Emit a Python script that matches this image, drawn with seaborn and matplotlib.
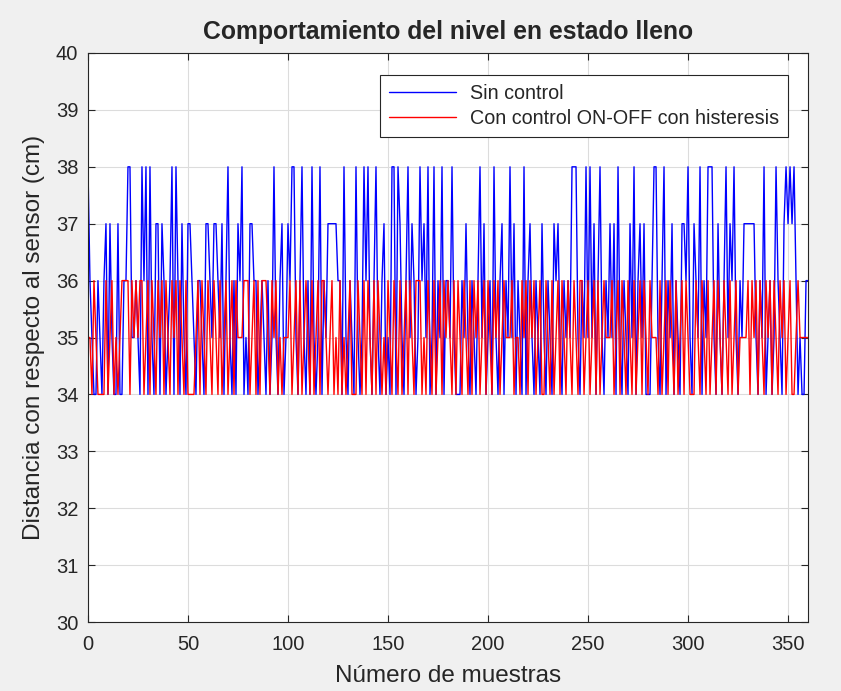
import matplotlib
matplotlib.use("Agg")
import matplotlib.pyplot as plt
import numpy as np
import pandas as pd
import seaborn as sns

# distancia medida (cm), una muestra por posicion
sin_control = [
    38,36,35,34,34,36,35,34,36,37,34,37,35,34,34,37,34,34,36,36,
    38,38,35,35,36,35,34,38,36,38,34,38,35,34,37,37,34,37,36,34,
    35,36,38,34,38,36,34,37,35,34,37,37,36,35,34,36,36,35,34,37,
    37,36,35,37,37,36,35,37,34,36,38,35,34,36,34,37,36,38,34,35,
    34,37,37,36,36,34,35,36,35,34,36,34,35,38,35,34,36,37,34,35,
    37,36,38,38,35,34,36,38,35,34,36,34,38,35,34,35,38,34,36,35,
    37,37,37,37,37,36,36,34,38,35,34,36,35,34,38,35,34,35,38,36,
    38,35,34,36,38,35,34,36,37,34,35,34,38,38,34,38,37,35,34,36,
    38,35,37,36,34,35,38,36,37,35,38,34,35,38,34,36,35,38,34,36,
    36,35,38,35,34,34,34,36,35,37,35,34,36,35,34,36,38,35,37,34,
    35,36,34,38,35,34,36,37,34,36,35,38,35,37,34,36,35,34,38,34,
    36,37,35,34,36,35,34,37,35,34,36,35,34,37,36,37,35,34,36,35,
    36,35,38,38,38,35,34,36,35,38,35,38,35,37,34,36,38,35,34,36,
    35,37,35,37,34,38,35,34,36,35,34,37,35,38,34,36,37,35,37,34,
    34,34,36,38,38,35,34,36,38,34,36,35,37,34,36,35,34,37,37,36,
    38,35,34,37,36,35,38,34,36,35,38,38,38,35,34,37,35,34,36,38,
    35,37,36,38,35,34,36,35,37,37,37,37,37,37,35,34,36,35,38,34,
    35,36,34,35,38,36,35,34,37,38,37,38,37,38,36,34,35,34,34,36,
    36,
]
con_control = [
    35,35,34,36,35,34,34,34,34,36,34,35,36,34,35,34,35,36,36,36,
    36,34,36,35,36,35,36,36,34,35,36,34,36,35,34,36,35,36,34,36,
    35,34,36,35,36,34,36,35,34,36,34,34,34,34,35,36,34,36,35,34,
    36,35,34,36,35,34,36,34,35,36,34,35,36,34,36,35,35,35,36,36,
    36,34,35,36,34,36,34,36,36,36,35,34,36,35,36,34,35,34,35,35,
    35,36,34,35,36,34,36,34,35,36,35,34,36,34,35,36,34,36,36,35,
    34,35,36,34,35,34,36,34,35,34,35,36,34,34,34,36,35,34,36,34,
    36,35,34,36,34,36,35,34,35,34,36,35,34,36,35,34,36,34,35,36,
    34,36,35,34,36,36,36,34,35,34,36,35,34,36,34,35,36,34,36,35,
    36,35,34,36,34,36,35,34,36,35,34,36,34,36,35,36,34,35,36,34,
    36,35,34,36,35,36,34,35,36,35,35,35,36,34,35,35,34,36,35,36,
    34,36,35,36,34,35,36,34,34,36,35,34,36,34,35,36,34,36,35,34,
    36,35,34,36,35,34,36,36,34,35,36,34,35,36,34,36,34,35,36,35,
    35,35,36,34,35,36,34,36,35,34,36,35,34,36,34,35,36,34,36,35,
    34,36,35,35,35,34,36,34,35,36,34,36,35,34,36,34,35,36,34,36,
    35,34,34,34,36,35,34,36,35,34,36,34,35,36,34,36,35,34,36,35,
    34,36,34,35,36,34,35,35,35,35,36,34,36,35,36,34,36,35,34,36,
    35,36,34,36,35,34,36,35,36,34,35,36,34,34,35,36,35,35,35,35,
    35,
]
muestras = np.arange(len(sin_control))

sns.set_style("whitegrid")
plt.rcParams["font.family"] = ["Liberation Sans", "DejaVu Sans"]

fig = plt.figure(figsize=(8.41, 6.91), dpi=100, facecolor="#f0f0f0")
ax = fig.add_axes([0.1046, 0.0998, 0.8562, 0.8235])
ax.set_facecolor("white")

sns.lineplot(x=muestras, y=sin_control, color="#0000ff", lw=1.0,
             label="Sin control", ax=ax)
sns.lineplot(x=muestras, y=con_control, color="#ff0000", lw=1.0,
             label="Con control ON-OFF con histeresis", ax=ax)

ax.set_xlim(0, 360)
ax.set_ylim(30, 40)
ax.set_xticks(range(0, 351, 50))
ax.set_yticks(range(30, 41))
ax.grid(True, color="#dcdcdc", lw=0.8)
for s in ax.spines.values():
    s.set_color("#262626")
    s.set_linewidth(0.8)
ax.tick_params(direction="in", length=5, width=0.8, labelsize=14.5,
               colors="#262626", top=True, right=True, left=True, bottom=True,
               labelcolor="#262626", pad=7)
ax.tick_params(axis="x", pad=9)

ax.set_title("Comportamiento del nivel en estado lleno", fontsize=17.8,
             fontweight="bold", pad=10)
ax.set_xlabel("Número de muestras", fontsize=17.5, color="#262626", labelpad=8)
ax.set_ylabel("Distancia con respecto al sensor (cm)", fontsize=17.5,
              color="#262626", labelpad=8)

leg = ax.legend(loc="upper right", bbox_to_anchor=(0.972, 0.961), fontsize=14.2,
                frameon=True, fancybox=False, framealpha=1, edgecolor="#262626",
                handlelength=3.4, handletextpad=0.7, borderpad=0.45,
                labelspacing=0.3, borderaxespad=0)
leg.get_frame().set_linewidth(0.8)

fig.savefig("out.png", dpi=100, facecolor=fig.get_facecolor())
